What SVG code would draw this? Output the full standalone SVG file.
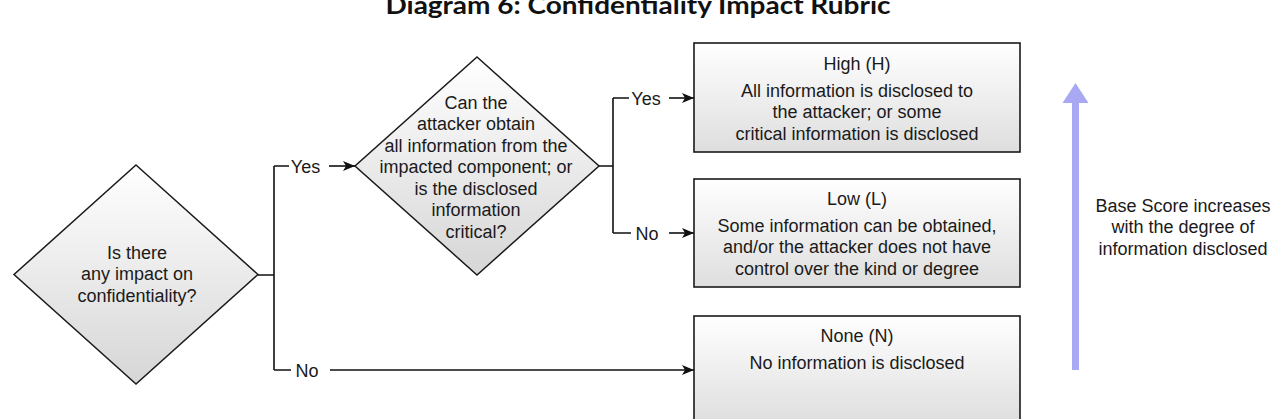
<svg xmlns="http://www.w3.org/2000/svg" width="1272" height="419" viewBox="0 0 1272 419">
<defs>
<linearGradient id="gDia" x1="0" y1="0" x2="0" y2="1">
<stop offset="0" stop-color="#ffffff"/>
<stop offset="1" stop-color="#d6d6d6"/>
</linearGradient>
<linearGradient id="gBox" x1="0" y1="0" x2="0" y2="1">
<stop offset="0" stop-color="#ffffff"/>
<stop offset="1" stop-color="#dedede"/>
</linearGradient>
<marker id="arr" markerUnits="userSpaceOnUse" markerWidth="13" markerHeight="11" refX="12" refY="5" orient="auto">
<path d="M0,0 L12,5 L0,10 L3,5 z" fill="#111"/>
</marker>
<style>
.t{font-family:"Liberation Sans",Arial,sans-serif;font-size:18px;fill:#1a1a1a;text-anchor:middle}
.dia{fill:url(#gDia);stroke:#1a1a1a;stroke-width:1.5}
.box{fill:url(#gBox);stroke:#1a1a1a;stroke-width:1.6}
.ln{fill:none;stroke:#111;stroke-width:1.6}
.title{font-family:Lato,"Open Sans","Liberation Sans",sans-serif;font-weight:bold;font-size:24px;fill:#111;text-anchor:middle}
</style>
</defs>
<rect width="1272" height="419" fill="#ffffff"/>
<text class="title" x="638" y="14" textLength="505" lengthAdjust="spacingAndGlyphs">Diagram 6: Confidentiality Impact Rubric</text>

<g id="connectors">
<path class="ln" d="M258,275 H274 M274,166 V370 M274,166 H289 M274,370 H291"/>
<path class="ln" d="M329,166 H355" marker-end="url(#arr)"/>
<path class="ln" d="M330,370 H694" marker-end="url(#arr)"/>
<path class="ln" d="M599,166 H613 M613,98 V233 M613,98 H629 M613,233 H631"/>
<path class="ln" d="M669,98 H694" marker-end="url(#arr)"/>
<path class="ln" d="M669,233 H694" marker-end="url(#arr)"/>
<text class="t" x="305.5" y="172.5">Yes</text>
<text class="t" x="307" y="376.5">No</text>
<text class="t" x="646" y="104.5">Yes</text>
<text class="t" x="647" y="239.5">No</text>
</g>

<g id="q1">
<polygon class="dia" points="136,165 258,274.5 136,384 14,274.5"/>
<text class="t" x="137" y="258.5">Is there</text>
<text class="t" x="137" y="280">any impact on</text>
<text class="t" x="137" y="301.5">confidentiality?</text>
</g>

<g id="q2">
<polygon class="dia" points="477,57 599,166 477,275 355,166"/>
<text class="t" x="476" y="108.5">Can the</text>
<text class="t" x="476" y="130">attacker obtain</text>
<text class="t" x="476" y="151.5">all information from the</text>
<text class="t" x="476" y="173">impacted component; or</text>
<text class="t" x="476" y="194.5">is the disclosed</text>
<text class="t" x="476" y="216">information</text>
<text class="t" x="476" y="238">critical?</text>
</g>

<g id="high">
<rect class="box" x="694" y="43" width="326" height="109"/>
<text class="t" x="857" y="69.5">High (H)</text>
<text class="t" x="857" y="96.5">All information is disclosed to</text>
<text class="t" x="857" y="118">the attacker; or some</text>
<text class="t" x="857" y="139.5">critical information is disclosed</text>
</g>

<g id="low">
<rect class="box" x="694" y="179" width="326" height="108"/>
<text class="t" x="857" y="204.5">Low (L)</text>
<text class="t" x="857" y="231.5">Some information can be obtained,</text>
<text class="t" x="857" y="253">and/or the attacker does not have</text>
<text class="t" x="857" y="274.5">control over the kind or degree</text>
</g>

<g id="none">
<rect class="box" x="694" y="316" width="326" height="109"/>
<text class="t" x="857" y="341.5">None (N)</text>
<text class="t" x="857" y="368.5">No information is disclosed</text>
</g>

<g id="scale">
<rect x="1072" y="101" width="7" height="269" fill="#a9a9f3"/>
<polygon points="1075.5,83 1088.5,103 1062.5,103" fill="#a9a9f3"/>
<text class="t" x="1183" y="211.5">Base Score increases</text>
<text class="t" x="1183" y="233">with the degree of</text>
<text class="t" x="1183" y="254.5">information disclosed</text>
</g>
</svg>
